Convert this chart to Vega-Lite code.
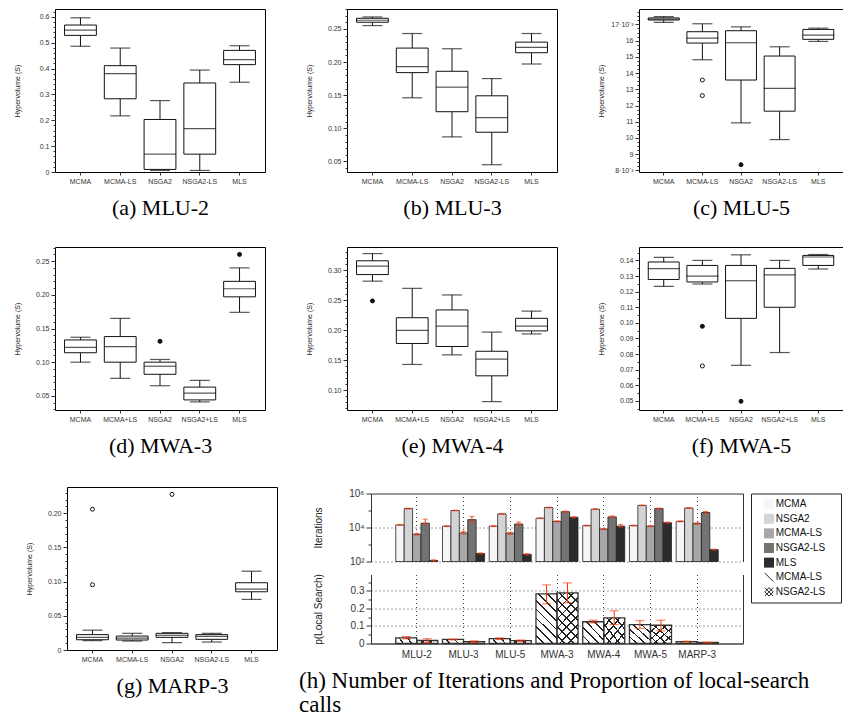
{
"$schema": "https://vega.github.io/schema/vega-lite/v6.json",
"padding": {"left": 12, "top": 8, "right": 0, "bottom": 0},
"autosize": {"type": "pad"},
"config": {
  "view": {"stroke": "#000", "strokeWidth": 1},
  "font": "Liberation Sans",
  "axis": {"labelFont": "Liberation Sans", "titleFont": "Liberation Sans", "labelColor": "#333", "titleColor": "#222", "tickColor": "#333", "domainColor": "#333", "titleFontWeight": "normal", "labelFontSize": 7, "titleFontSize": 7, "grid": false}
},
"datasets": {
  "boxes": [
    {"panel":"a","alg":"MCMA","lo":0.486,"q1":0.528,"med":0.548,"q3":0.568,"hi":0.596},
    {"panel":"a","alg":"MCMA-LS","lo":0.217,"q1":0.283,"med":0.380,"q3":0.411,"hi":0.479},
    {"panel":"a","alg":"NSGA2","lo":0.006,"q1":0.010,"med":0.069,"q3":0.203,"hi":0.276},
    {"panel":"a","alg":"NSGA2-LS","lo":0.006,"q1":0.069,"med":0.168,"q3":0.344,"hi":0.394},
    {"panel":"a","alg":"MLS","lo":0.347,"q1":0.415,"med":0.434,"q3":0.470,"hi":0.488},
    {"panel":"b","alg":"MCMA","lo":0.255,"q1":0.260,"med":0.263,"q3":0.266,"hi":0.268},
    {"panel":"b","alg":"MCMA-LS","lo":0.146,"q1":0.184,"med":0.193,"q3":0.221,"hi":0.243},
    {"panel":"b","alg":"NSGA2","lo":0.087,"q1":0.125,"med":0.162,"q3":0.186,"hi":0.220},
    {"panel":"b","alg":"NSGA2-LS","lo":0.045,"q1":0.094,"med":0.116,"q3":0.149,"hi":0.175},
    {"panel":"b","alg":"MLS","lo":0.197,"q1":0.214,"med":0.222,"q3":0.230,"hi":0.243},
    {"panel":"c","alg":"MCMA","lo":0.01712,"q1":0.01727,"med":0.01733,"q3":0.01740,"hi":0.01748},
    {"panel":"c","alg":"MCMA-LS","lo":0.01482,"q1":0.01585,"med":0.01616,"q3":0.01655,"hi":0.01704},
    {"panel":"c","alg":"NSGA2","lo":0.01093,"q1":0.01357,"med":0.01587,"q3":0.01661,"hi":0.01685},
    {"panel":"c","alg":"NSGA2-LS","lo":0.00990,"q1":0.01165,"med":0.01306,"q3":0.01505,"hi":0.01562},
    {"panel":"c","alg":"MLS","lo":0.01595,"q1":0.01608,"med":0.01634,"q3":0.01669,"hi":0.01677},
    {"panel":"d","alg":"MCMA","lo":0.100,"q1":0.114,"med":0.122,"q3":0.133,"hi":0.137},
    {"panel":"d","alg":"MCMA+LS","lo":0.076,"q1":0.100,"med":0.123,"q3":0.138,"hi":0.165},
    {"panel":"d","alg":"NSGA2","lo":0.065,"q1":0.082,"med":0.094,"q3":0.100,"hi":0.104},
    {"panel":"d","alg":"NSGA2+LS","lo":0.041,"q1":0.044,"med":0.054,"q3":0.063,"hi":0.073},
    {"panel":"d","alg":"MLS","lo":0.174,"q1":0.197,"med":0.209,"q3":0.220,"hi":0.240},
    {"panel":"e","alg":"MCMA","lo":0.282,"q1":0.293,"med":0.307,"q3":0.316,"hi":0.328},
    {"panel":"e","alg":"MCMA+LS","lo":0.143,"q1":0.178,"med":0.200,"q3":0.221,"hi":0.270},
    {"panel":"e","alg":"NSGA2","lo":0.159,"q1":0.173,"med":0.207,"q3":0.234,"hi":0.259},
    {"panel":"e","alg":"NSGA2+LS","lo":0.081,"q1":0.124,"med":0.152,"q3":0.165,"hi":0.197},
    {"panel":"e","alg":"MLS","lo":0.194,"q1":0.199,"med":0.207,"q3":0.220,"hi":0.232},
    {"panel":"f","alg":"MCMA","lo":0.1234,"q1":0.1278,"med":0.1347,"q3":0.1390,"hi":0.1420},
    {"panel":"f","alg":"MCMA+LS","lo":0.1249,"q1":0.1262,"med":0.1300,"q3":0.1368,"hi":0.1400},
    {"panel":"f","alg":"NSGA2","lo":0.0728,"q1":0.1029,"med":0.1270,"q3":0.1368,"hi":0.1436},
    {"panel":"f","alg":"NSGA2+LS","lo":0.0810,"q1":0.1100,"med":0.1307,"q3":0.1349,"hi":0.1400},
    {"panel":"f","alg":"MLS","lo":0.1345,"q1":0.1368,"med":0.1422,"q3":0.1432,"hi":0.1438},
    {"panel":"g","alg":"MCMA","lo":0.0137,"q1":0.0150,"med":0.0185,"q3":0.0225,"hi":0.0290},
    {"panel":"g","alg":"MCMA-LS","lo":0.0131,"q1":0.0146,"med":0.0175,"q3":0.0204,"hi":0.0244},
    {"panel":"g","alg":"NSGA2","lo":0.0108,"q1":0.0185,"med":0.0215,"q3":0.0244,"hi":0.0254},
    {"panel":"g","alg":"NSGA2-LS","lo":0.0117,"q1":0.0156,"med":0.0200,"q3":0.0225,"hi":0.0244},
    {"panel":"g","alg":"MLS","lo":0.0740,"q1":0.0852,"med":0.0890,"q3":0.0984,"hi":0.1153}
  ],
  "outliers": [
    {"panel":"c","alg":"MCMA-LS","v":0.01357,"kind":"near"},
    {"panel":"c","alg":"MCMA-LS","v":0.01261,"kind":"near"},
    {"panel":"c","alg":"NSGA2","v":0.00835,"kind":"far"},
    {"panel":"d","alg":"NSGA2","v":0.131,"kind":"far"},
    {"panel":"d","alg":"MLS","v":0.260,"kind":"far"},
    {"panel":"e","alg":"MCMA","v":0.249,"kind":"far"},
    {"panel":"f","alg":"MCMA+LS","v":0.0978,"kind":"far"},
    {"panel":"f","alg":"MCMA+LS","v":0.0724,"kind":"near"},
    {"panel":"f","alg":"NSGA2","v":0.0498,"kind":"far"},
    {"panel":"g","alg":"MCMA","v":0.206,"kind":"near"},
    {"panel":"g","alg":"MCMA","v":0.0955,"kind":"near"},
    {"panel":"g","alg":"NSGA2","v":0.2277,"kind":"near"}
  ],
  "iters": [
    {"problem":"MLU-2","alg":"MCMA","v":14200,"lo":13300,"hi":15100},
    {"problem":"MLU-2","alg":"NSGA2","v":130000,"lo":122000,"hi":138000},
    {"problem":"MLU-2","alg":"MCMA-LS","v":4000,"lo":3600,"hi":4500},
    {"problem":"MLU-2","alg":"NSGA2-LS","v":18000,"lo":15000,"hi":31000},
    {"problem":"MLU-2","alg":"MLS","v":115,"lo":105,"hi":125},
    {"problem":"MLU-3","alg":"MCMA","v":12000,"lo":11200,"hi":12800},
    {"problem":"MLU-3","alg":"NSGA2","v":100000,"lo":95000,"hi":105000},
    {"problem":"MLU-3","alg":"MCMA-LS","v":4800,"lo":4200,"hi":6000},
    {"problem":"MLU-3","alg":"NSGA2-LS","v":29000,"lo":20000,"hi":45000},
    {"problem":"MLU-3","alg":"MLS","v":295,"lo":270,"hi":320},
    {"problem":"MLU-5","alg":"MCMA","v":12000,"lo":11200,"hi":12800},
    {"problem":"MLU-5","alg":"NSGA2","v":63000,"lo":59000,"hi":67000},
    {"problem":"MLU-5","alg":"MCMA-LS","v":4600,"lo":4000,"hi":5300},
    {"problem":"MLU-5","alg":"NSGA2-LS","v":16000,"lo":13500,"hi":21000},
    {"problem":"MLU-5","alg":"MLS","v":260,"lo":240,"hi":290},
    {"problem":"MWA-3","alg":"MCMA","v":35000,"lo":33000,"hi":37000},
    {"problem":"MWA-3","alg":"NSGA2","v":150000,"lo":142000,"hi":158000},
    {"problem":"MWA-3","alg":"MCMA-LS","v":23000,"lo":21500,"hi":24500},
    {"problem":"MWA-3","alg":"NSGA2-LS","v":85000,"lo":78000,"hi":92000},
    {"problem":"MWA-3","alg":"MLS","v":40000,"lo":37000,"hi":43000},
    {"problem":"MWA-4","alg":"MCMA","v":13000,"lo":12200,"hi":13800},
    {"problem":"MWA-4","alg":"NSGA2","v":120000,"lo":113000,"hi":127000},
    {"problem":"MWA-4","alg":"MCMA-LS","v":8100,"lo":7500,"hi":8800},
    {"problem":"MWA-4","alg":"NSGA2-LS","v":42000,"lo":38000,"hi":48000},
    {"problem":"MWA-4","alg":"MLS","v":12000,"lo":10500,"hi":15000},
    {"problem":"MWA-5","alg":"MCMA","v":13000,"lo":12200,"hi":13800},
    {"problem":"MWA-5","alg":"NSGA2","v":200000,"lo":190000,"hi":210000},
    {"problem":"MWA-5","alg":"MCMA-LS","v":12000,"lo":11200,"hi":12800},
    {"problem":"MWA-5","alg":"NSGA2-LS","v":130000,"lo":122000,"hi":138000},
    {"problem":"MWA-5","alg":"MLS","v":19000,"lo":18000,"hi":21000},
    {"problem":"MARP-3","alg":"MCMA","v":23000,"lo":21500,"hi":24500},
    {"problem":"MARP-3","alg":"NSGA2","v":140000,"lo":132000,"hi":148000},
    {"problem":"MARP-3","alg":"MCMA-LS","v":17000,"lo":15500,"hi":19000},
    {"problem":"MARP-3","alg":"NSGA2-LS","v":76000,"lo":65000,"hi":88000},
    {"problem":"MARP-3","alg":"MLS","v":500,"lo":470,"hi":530}
  ],
  "plocal": [
    {"problem":"MLU-2","alg":"MCMA-LS","p":0.032,"lo":0.026,"hi":0.040},
    {"problem":"MLU-2","alg":"NSGA2-LS","p":0.017,"lo":0.005,"hi":0.027},
    {"problem":"MLU-3","alg":"MCMA-LS","p":0.024,"lo":0.020,"hi":0.025},
    {"problem":"MLU-3","alg":"NSGA2-LS","p":0.011,"lo":0.005,"hi":0.015},
    {"problem":"MLU-5","alg":"MCMA-LS","p":0.028,"lo":0.022,"hi":0.032},
    {"problem":"MLU-5","alg":"NSGA2-LS","p":0.016,"lo":0.012,"hi":0.020},
    {"problem":"MWA-3","alg":"MCMA-LS","p":0.283,"lo":0.226,"hi":0.334},
    {"problem":"MWA-3","alg":"NSGA2-LS","p":0.288,"lo":0.232,"hi":0.345},
    {"problem":"MWA-4","alg":"MCMA-LS","p":0.124,"lo":0.117,"hi":0.133},
    {"problem":"MWA-4","alg":"NSGA2-LS","p":0.146,"lo":0.108,"hi":0.186},
    {"problem":"MWA-5","alg":"MCMA-LS","p":0.108,"lo":0.086,"hi":0.130},
    {"problem":"MWA-5","alg":"NSGA2-LS","p":0.104,"lo":0.072,"hi":0.133},
    {"problem":"MARP-3","alg":"MCMA-LS","p":0.011,"lo":0.009,"hi":0.013},
    {"problem":"MARP-3","alg":"NSGA2-LS","p":0.006,"lo":0.004,"hi":0.008}
  ],
  "legend": [
    {"item":"MCMA","label":"MCMA","kind":"fill"},
    {"item":"NSGA2","label":"NSGA2","kind":"fill"},
    {"item":"MCMA-LS","label":"MCMA-LS","kind":"fill"},
    {"item":"NSGA2-LS","label":"NSGA2-LS","kind":"fill"},
    {"item":"MLS","label":"MLS","kind":"fill"},
    {"item":"MCMA-LS hatch","label":"MCMA-LS","kind":"diag"},
    {"item":"NSGA2-LS hatch","label":"NSGA2-LS","kind":"cross"}
  ]
},
"vconcat": [
  {"hconcat": [
    {"width": 210, "height": 163, "resolve": {"axis": {"y": "independent"}},
     "layer": [
      {"data": {"name": "boxes"}, "transform": [{"filter": "datum.panel == 'a'"}],
       "mark": {"type": "rule", "color": "#111", "strokeWidth": 1},
       "encoding": {
        "x": {"field": "alg", "type": "nominal", "scale": {"type": "band", "domain": ["MCMA","MCMA-LS","NSGA2","NSGA2-LS","MLS"], "paddingInner": 0, "paddingOuter": 0.14},
              "axis": {"title": "(a) MLU-2", "titleFont": "Liberation Serif", "titleFontSize": 22, "titleColor": "#000", "titlePadding": 12, "labelPadding": 2, "labelAngle": 0, "tickSize": 3, "domain": false, "bandPosition": 0.5, "minExtent": 13, "maxExtent": 13}},
        "y": {"field": "lo", "type": "quantitative", "scale": {"domain": [0, 0.63], "nice": false, "zero": false},
              "axis": {"title": "Hypervolume (S)", "titlePadding": 5, "labelPadding": 2, "tickSize": 4, "domain": false, "minExtent": 30, "maxExtent": 30,
                       "values": [0,0.1,0.2,0.3,0.4,0.5,0.6],
                       "labelExpr": "datum.value < 0.001 ? '0' : format(datum.value, '.1f')"}},
        "y2": {"field": "q1"}}},
      {"data": {"name": "boxes"}, "transform": [{"filter": "datum.panel == 'a'"}], "mark": {"type": "rule", "color": "#111", "strokeWidth": 1},
       "encoding": {"x": {"field": "alg", "type": "nominal"}, "y": {"field": "q3", "type": "quantitative",
         "axis": {"orient": "left", "title": null, "labels": false, "tickSize": 2, "domain": false, "grid": false,
                  "values": [0,0.02,0.04,0.06,0.08,0.1,0.12,0.14,0.16,0.18,0.2,0.22,0.24,0.26,0.28,0.3,0.32,0.34,0.36,0.38,0.4,0.42,0.44,0.46,0.48,0.5,0.52,0.54,0.56,0.58,0.6,0.62]}}, "y2": {"field": "hi"}}},
      {"data": {"name": "boxes"}, "transform": [{"filter": "datum.panel == 'a'"}], "mark": {"type": "bar", "fill": "white", "stroke": "#111", "strokeWidth": 1, "width": {"band": 0.8}},
       "encoding": {"x": {"field": "alg", "type": "nominal"}, "y": {"field": "q1", "type": "quantitative", "axis": null}, "y2": {"field": "q3"}}},
      {"data": {"name": "boxes"}, "transform": [{"filter": "datum.panel == 'a'"}], "mark": {"type": "tick", "color": "#111", "size": 32, "thickness": 1.2},
       "encoding": {"x": {"field": "alg", "type": "nominal"}, "y": {"field": "med", "type": "quantitative", "axis": null}}},
      {"data": {"name": "boxes"}, "transform": [{"filter": "datum.panel == 'a'"}], "mark": {"type": "tick", "color": "#111", "size": 20, "thickness": 1.2},
       "encoding": {"x": {"field": "alg", "type": "nominal"}, "y": {"field": "lo", "type": "quantitative", "axis": null}}},
      {"data": {"name": "boxes"}, "transform": [{"filter": "datum.panel == 'a'"}], "mark": {"type": "tick", "color": "#111", "size": 20, "thickness": 1.2},
       "encoding": {"x": {"field": "alg", "type": "nominal"}, "y": {"field": "hi", "type": "quantitative", "axis": null}}}
     ]},
    {"width": 210, "height": 163, "resolve": {"axis": {"y": "independent"}},
     "layer": [
      {"data": {"name": "boxes"}, "transform": [{"filter": "datum.panel == 'b'"}],
       "mark": {"type": "rule", "color": "#111", "strokeWidth": 1},
       "encoding": {
        "x": {"field": "alg", "type": "nominal", "scale": {"type": "band", "domain": ["MCMA","MCMA-LS","NSGA2","NSGA2-LS","MLS"], "paddingInner": 0, "paddingOuter": 0.14},
              "axis": {"title": "(b) MLU-3", "titleFont": "Liberation Serif", "titleFontSize": 22, "titleColor": "#000", "titlePadding": 12, "labelPadding": 2, "labelAngle": 0, "tickSize": 3, "domain": false, "bandPosition": 0.5, "minExtent": 13, "maxExtent": 13}},
        "y": {"field": "lo", "type": "quantitative", "scale": {"domain": [0.034, 0.28], "nice": false, "zero": false},
              "axis": {"title": "Hypervolume (S)", "titlePadding": 5, "labelPadding": 2, "tickSize": 4, "domain": false, "minExtent": 30, "maxExtent": 30,
                       "values": [0.05,0.1,0.15,0.2,0.25], "format": ".2f"}},
        "y2": {"field": "q1"}}},
      {"data": {"name": "boxes"}, "transform": [{"filter": "datum.panel == 'b'"}], "mark": {"type": "rule", "color": "#111", "strokeWidth": 1},
       "encoding": {"x": {"field": "alg", "type": "nominal"}, "y": {"field": "q3", "type": "quantitative",
         "axis": {"orient": "left", "title": null, "labels": false, "tickSize": 2, "domain": false, "grid": false,
                  "values": [0.04,0.05,0.06,0.07,0.08,0.09,0.1,0.11,0.12,0.13,0.14,0.15,0.16,0.17,0.18,0.19,0.2,0.21,0.22,0.23,0.24,0.25,0.26,0.27,0.28]}}, "y2": {"field": "hi"}}},
      {"data": {"name": "boxes"}, "transform": [{"filter": "datum.panel == 'b'"}], "mark": {"type": "bar", "fill": "white", "stroke": "#111", "strokeWidth": 1, "width": {"band": 0.8}},
       "encoding": {"x": {"field": "alg", "type": "nominal"}, "y": {"field": "q1", "type": "quantitative", "axis": null}, "y2": {"field": "q3"}}},
      {"data": {"name": "boxes"}, "transform": [{"filter": "datum.panel == 'b'"}], "mark": {"type": "tick", "color": "#111", "size": 32, "thickness": 1.2},
       "encoding": {"x": {"field": "alg", "type": "nominal"}, "y": {"field": "med", "type": "quantitative", "axis": null}}},
      {"data": {"name": "boxes"}, "transform": [{"filter": "datum.panel == 'b'"}], "mark": {"type": "tick", "color": "#111", "size": 20, "thickness": 1.2},
       "encoding": {"x": {"field": "alg", "type": "nominal"}, "y": {"field": "lo", "type": "quantitative", "axis": null}}},
      {"data": {"name": "boxes"}, "transform": [{"filter": "datum.panel == 'b'"}], "mark": {"type": "tick", "color": "#111", "size": 20, "thickness": 1.2},
       "encoding": {"x": {"field": "alg", "type": "nominal"}, "y": {"field": "hi", "type": "quantitative", "axis": null}}}
     ]},
    {"width": 204, "height": 163, "resolve": {"axis": {"y": "independent"}},
     "layer": [
      {"data": {"name": "boxes"}, "transform": [{"filter": "datum.panel == 'c'"}],
       "mark": {"type": "rule", "color": "#111", "strokeWidth": 1},
       "encoding": {
        "x": {"field": "alg", "type": "nominal", "scale": {"type": "band", "domain": ["MCMA","MCMA-LS","NSGA2","NSGA2-LS","MLS"], "paddingInner": 0, "paddingOuter": 0.14},
              "axis": {"title": "(c) MLU-5", "titleFont": "Liberation Serif", "titleFontSize": 22, "titleColor": "#000", "titlePadding": 12, "labelPadding": 2, "labelAngle": 0, "tickSize": 3, "domain": false, "bandPosition": 0.5, "minExtent": 13, "maxExtent": 13}},
        "y": {"field": "lo", "type": "quantitative", "scale": {"domain": [0.0079, 0.01795], "nice": false, "zero": false},
              "axis": {"title": "Hypervolume (S)", "titlePadding": 5, "labelPadding": 2, "tickSize": 4, "domain": false, "minExtent": 30, "maxExtent": 30,
                       "values": [0.008,0.009,0.01,0.011,0.012,0.013,0.014,0.015,0.016,0.017],
                       "labelExpr": "(round(datum.value*1000) == 17 || round(datum.value*1000) == 8) ? round(datum.value*1000) + '·10⁻³' : '' + round(datum.value*1000)"}},
        "y2": {"field": "q1"}}},
      {"data": {"name": "boxes"}, "transform": [{"filter": "datum.panel == 'c'"}], "mark": {"type": "rule", "color": "#111", "strokeWidth": 1},
       "encoding": {"x": {"field": "alg", "type": "nominal"}, "y": {"field": "q3", "type": "quantitative",
         "axis": {"orient": "left", "title": null, "labels": false, "tickSize": 2, "domain": false, "grid": false,
                  "values": [0.008,0.00825,0.0085,0.00875,0.009,0.00925,0.0095,0.00975,0.01,0.01025,0.0105,0.01075,0.011,0.01125,0.0115,0.01175,0.012,0.01225,0.0125,0.01275,0.013,0.01325,0.0135,0.01375,0.014,0.01425,0.0145,0.01475,0.015,0.01525,0.0155,0.01575,0.016,0.01625,0.0165,0.01675,0.017,0.01725,0.0175,0.01775]}}, "y2": {"field": "hi"}}},
      {"data": {"name": "boxes"}, "transform": [{"filter": "datum.panel == 'c'"}], "mark": {"type": "bar", "fill": "white", "stroke": "#111", "strokeWidth": 1, "width": {"band": 0.8}},
       "encoding": {"x": {"field": "alg", "type": "nominal"}, "y": {"field": "q1", "type": "quantitative", "axis": null}, "y2": {"field": "q3"}}},
      {"data": {"name": "boxes"}, "transform": [{"filter": "datum.panel == 'c'"}], "mark": {"type": "tick", "color": "#111", "size": 32, "thickness": 1.2},
       "encoding": {"x": {"field": "alg", "type": "nominal"}, "y": {"field": "med", "type": "quantitative", "axis": null}}},
      {"data": {"name": "boxes"}, "transform": [{"filter": "datum.panel == 'c'"}], "mark": {"type": "tick", "color": "#111", "size": 20, "thickness": 1.2},
       "encoding": {"x": {"field": "alg", "type": "nominal"}, "y": {"field": "lo", "type": "quantitative", "axis": null}}},
      {"data": {"name": "boxes"}, "transform": [{"filter": "datum.panel == 'c'"}], "mark": {"type": "tick", "color": "#111", "size": 20, "thickness": 1.2},
       "encoding": {"x": {"field": "alg", "type": "nominal"}, "y": {"field": "hi", "type": "quantitative", "axis": null}}},
      {"data": {"name": "outliers"}, "transform": [{"filter": "datum.panel == 'c'"}], "mark": {"type": "point", "shape": "circle", "size": 16, "stroke": "#111", "strokeWidth": 1, "opacity": 1, "filled": true},
       "encoding": {"x": {"field": "alg", "type": "nominal"}, "y": {"field": "v", "type": "quantitative", "axis": null}, "fill": {"condition": {"test": "datum.kind == 'far'", "value": "#111"}, "value": "white"}}}
     ]}
  ], "spacing": 82, "bounds": "flush"},
  {"hconcat": [
    {"width": 210, "height": 163, "resolve": {"axis": {"y": "independent"}},
     "layer": [
      {"data": {"name": "boxes"}, "transform": [{"filter": "datum.panel == 'd'"}],
       "mark": {"type": "rule", "color": "#111", "strokeWidth": 1},
       "encoding": {
        "x": {"field": "alg", "type": "nominal", "scale": {"type": "band", "domain": ["MCMA","MCMA+LS","NSGA2","NSGA2+LS","MLS"], "paddingInner": 0, "paddingOuter": 0.14},
              "axis": {"title": "(d) MWA-3", "titleFont": "Liberation Serif", "titleFontSize": 22, "titleColor": "#000", "titlePadding": 12, "labelPadding": 2, "labelAngle": 0, "tickSize": 3, "domain": false, "bandPosition": 0.5, "minExtent": 13, "maxExtent": 13}},
        "y": {"field": "lo", "type": "quantitative", "scale": {"domain": [0.029, 0.271], "nice": false, "zero": false},
              "axis": {"title": "Hypervolume (S)", "titlePadding": 5, "labelPadding": 2, "tickSize": 4, "domain": false, "minExtent": 30, "maxExtent": 30,
                       "values": [0.05,0.1,0.15,0.2,0.25], "format": ".2f"}},
        "y2": {"field": "q1"}}},
      {"data": {"name": "boxes"}, "transform": [{"filter": "datum.panel == 'd'"}], "mark": {"type": "rule", "color": "#111", "strokeWidth": 1},
       "encoding": {"x": {"field": "alg", "type": "nominal"}, "y": {"field": "q3", "type": "quantitative",
         "axis": {"orient": "left", "title": null, "labels": false, "tickSize": 2, "domain": false, "grid": false,
                  "values": [0.03,0.04,0.05,0.06,0.07,0.08,0.09,0.1,0.11,0.12,0.13,0.14,0.15,0.16,0.17,0.18,0.19,0.2,0.21,0.22,0.23,0.24,0.25,0.26,0.27]}}, "y2": {"field": "hi"}}},
      {"data": {"name": "boxes"}, "transform": [{"filter": "datum.panel == 'd'"}], "mark": {"type": "bar", "fill": "white", "stroke": "#111", "strokeWidth": 1, "width": {"band": 0.8}},
       "encoding": {"x": {"field": "alg", "type": "nominal"}, "y": {"field": "q1", "type": "quantitative", "axis": null}, "y2": {"field": "q3"}}},
      {"data": {"name": "boxes"}, "transform": [{"filter": "datum.panel == 'd'"}], "mark": {"type": "tick", "color": "#111", "size": 32, "thickness": 1.2},
       "encoding": {"x": {"field": "alg", "type": "nominal"}, "y": {"field": "med", "type": "quantitative", "axis": null}}},
      {"data": {"name": "boxes"}, "transform": [{"filter": "datum.panel == 'd'"}], "mark": {"type": "tick", "color": "#111", "size": 20, "thickness": 1.2},
       "encoding": {"x": {"field": "alg", "type": "nominal"}, "y": {"field": "lo", "type": "quantitative", "axis": null}}},
      {"data": {"name": "boxes"}, "transform": [{"filter": "datum.panel == 'd'"}], "mark": {"type": "tick", "color": "#111", "size": 20, "thickness": 1.2},
       "encoding": {"x": {"field": "alg", "type": "nominal"}, "y": {"field": "hi", "type": "quantitative", "axis": null}}},
      {"data": {"name": "outliers"}, "transform": [{"filter": "datum.panel == 'd'"}], "mark": {"type": "point", "shape": "circle", "size": 16, "stroke": "#111", "strokeWidth": 1, "opacity": 1, "filled": true},
       "encoding": {"x": {"field": "alg", "type": "nominal"}, "y": {"field": "v", "type": "quantitative", "axis": null}, "fill": {"condition": {"test": "datum.kind == 'far'", "value": "#111"}, "value": "white"}}}
     ]},
    {"width": 210, "height": 163, "resolve": {"axis": {"y": "independent"}},
     "layer": [
      {"data": {"name": "boxes"}, "transform": [{"filter": "datum.panel == 'e'"}],
       "mark": {"type": "rule", "color": "#111", "strokeWidth": 1},
       "encoding": {
        "x": {"field": "alg", "type": "nominal", "scale": {"type": "band", "domain": ["MCMA","MCMA+LS","NSGA2","NSGA2+LS","MLS"], "paddingInner": 0, "paddingOuter": 0.14},
              "axis": {"title": "(e) MWA-4", "titleFont": "Liberation Serif", "titleFontSize": 22, "titleColor": "#000", "titlePadding": 12, "labelPadding": 2, "labelAngle": 0, "tickSize": 3, "domain": false, "bandPosition": 0.5, "minExtent": 13, "maxExtent": 13}},
        "y": {"field": "lo", "type": "quantitative", "scale": {"domain": [0.067, 0.339], "nice": false, "zero": false},
              "axis": {"title": "Hypervolume (S)", "titlePadding": 5, "labelPadding": 2, "tickSize": 4, "domain": false, "minExtent": 30, "maxExtent": 30,
                       "values": [0.1,0.15,0.2,0.25,0.3], "format": ".2f"}},
        "y2": {"field": "q1"}}},
      {"data": {"name": "boxes"}, "transform": [{"filter": "datum.panel == 'e'"}], "mark": {"type": "rule", "color": "#111", "strokeWidth": 1},
       "encoding": {"x": {"field": "alg", "type": "nominal"}, "y": {"field": "q3", "type": "quantitative",
         "axis": {"orient": "left", "title": null, "labels": false, "tickSize": 2, "domain": false, "grid": false,
                  "values": [0.07,0.08,0.09,0.1,0.11,0.12,0.13,0.14,0.15,0.16,0.17,0.18,0.19,0.2,0.21,0.22,0.23,0.24,0.25,0.26,0.27,0.28,0.29,0.3,0.31,0.32,0.33]}}, "y2": {"field": "hi"}}},
      {"data": {"name": "boxes"}, "transform": [{"filter": "datum.panel == 'e'"}], "mark": {"type": "bar", "fill": "white", "stroke": "#111", "strokeWidth": 1, "width": {"band": 0.8}},
       "encoding": {"x": {"field": "alg", "type": "nominal"}, "y": {"field": "q1", "type": "quantitative", "axis": null}, "y2": {"field": "q3"}}},
      {"data": {"name": "boxes"}, "transform": [{"filter": "datum.panel == 'e'"}], "mark": {"type": "tick", "color": "#111", "size": 32, "thickness": 1.2},
       "encoding": {"x": {"field": "alg", "type": "nominal"}, "y": {"field": "med", "type": "quantitative", "axis": null}}},
      {"data": {"name": "boxes"}, "transform": [{"filter": "datum.panel == 'e'"}], "mark": {"type": "tick", "color": "#111", "size": 20, "thickness": 1.2},
       "encoding": {"x": {"field": "alg", "type": "nominal"}, "y": {"field": "lo", "type": "quantitative", "axis": null}}},
      {"data": {"name": "boxes"}, "transform": [{"filter": "datum.panel == 'e'"}], "mark": {"type": "tick", "color": "#111", "size": 20, "thickness": 1.2},
       "encoding": {"x": {"field": "alg", "type": "nominal"}, "y": {"field": "hi", "type": "quantitative", "axis": null}}},
      {"data": {"name": "outliers"}, "transform": [{"filter": "datum.panel == 'e'"}], "mark": {"type": "point", "shape": "circle", "size": 16, "stroke": "#111", "strokeWidth": 1, "opacity": 1, "filled": true},
       "encoding": {"x": {"field": "alg", "type": "nominal"}, "y": {"field": "v", "type": "quantitative", "axis": null}, "fill": {"condition": {"test": "datum.kind == 'far'", "value": "#111"}, "value": "white"}}}
     ]},
    {"width": 204, "height": 163, "resolve": {"axis": {"y": "independent"}},
     "layer": [
      {"data": {"name": "boxes"}, "transform": [{"filter": "datum.panel == 'f'"}],
       "mark": {"type": "rule", "color": "#111", "strokeWidth": 1},
       "encoding": {
        "x": {"field": "alg", "type": "nominal", "scale": {"type": "band", "domain": ["MCMA","MCMA+LS","NSGA2","NSGA2+LS","MLS"], "paddingInner": 0, "paddingOuter": 0.14},
              "axis": {"title": "(f) MWA-5", "titleFont": "Liberation Serif", "titleFontSize": 22, "titleColor": "#000", "titlePadding": 12, "labelPadding": 2, "labelAngle": 0, "tickSize": 3, "domain": false, "bandPosition": 0.5, "minExtent": 13, "maxExtent": 13}},
        "y": {"field": "lo", "type": "quantitative", "scale": {"domain": [0.0442, 0.1486], "nice": false, "zero": false},
              "axis": {"title": "Hypervolume (S)", "titlePadding": 5, "labelPadding": 2, "tickSize": 4, "domain": false, "minExtent": 30, "maxExtent": 30,
                       "values": [0.05,0.06,0.07,0.08,0.09,0.1,0.11,0.12,0.13,0.14], "format": ".2f"}},
        "y2": {"field": "q1"}}},
      {"data": {"name": "boxes"}, "transform": [{"filter": "datum.panel == 'f'"}], "mark": {"type": "rule", "color": "#111", "strokeWidth": 1},
       "encoding": {"x": {"field": "alg", "type": "nominal"}, "y": {"field": "q3", "type": "quantitative",
         "axis": {"orient": "left", "title": null, "labels": false, "tickSize": 2, "domain": false, "grid": false,
                  "values": [0.045,0.05,0.055,0.06,0.065,0.07,0.075,0.08,0.085,0.09,0.095,0.1,0.105,0.11,0.115,0.12,0.125,0.13,0.135,0.14,0.145]}}, "y2": {"field": "hi"}}},
      {"data": {"name": "boxes"}, "transform": [{"filter": "datum.panel == 'f'"}], "mark": {"type": "bar", "fill": "white", "stroke": "#111", "strokeWidth": 1, "width": {"band": 0.8}},
       "encoding": {"x": {"field": "alg", "type": "nominal"}, "y": {"field": "q1", "type": "quantitative", "axis": null}, "y2": {"field": "q3"}}},
      {"data": {"name": "boxes"}, "transform": [{"filter": "datum.panel == 'f'"}], "mark": {"type": "tick", "color": "#111", "size": 32, "thickness": 1.2},
       "encoding": {"x": {"field": "alg", "type": "nominal"}, "y": {"field": "med", "type": "quantitative", "axis": null}}},
      {"data": {"name": "boxes"}, "transform": [{"filter": "datum.panel == 'f'"}], "mark": {"type": "tick", "color": "#111", "size": 20, "thickness": 1.2},
       "encoding": {"x": {"field": "alg", "type": "nominal"}, "y": {"field": "lo", "type": "quantitative", "axis": null}}},
      {"data": {"name": "boxes"}, "transform": [{"filter": "datum.panel == 'f'"}], "mark": {"type": "tick", "color": "#111", "size": 20, "thickness": 1.2},
       "encoding": {"x": {"field": "alg", "type": "nominal"}, "y": {"field": "hi", "type": "quantitative", "axis": null}}},
      {"data": {"name": "outliers"}, "transform": [{"filter": "datum.panel == 'f'"}], "mark": {"type": "point", "shape": "circle", "size": 16, "stroke": "#111", "strokeWidth": 1, "opacity": 1, "filled": true},
       "encoding": {"x": {"field": "alg", "type": "nominal"}, "y": {"field": "v", "type": "quantitative", "axis": null}, "fill": {"condition": {"test": "datum.kind == 'far'", "value": "#111"}, "value": "white"}}}
     ]}
  ], "spacing": 82, "bounds": "flush"},
  {"hconcat": [
    {"width": 1, "height": 1, "view": {"stroke": null}, "data": {"values": [{"s": 1}]}, "mark": {"type": "point", "opacity": 0}},
    {"hconcat": [
      {"width": 210, "height": 163, "resolve": {"axis": {"y": "independent"}},
       "layer": [
        {"data": {"name": "boxes"}, "transform": [{"filter": "datum.panel == 'g'"}],
         "mark": {"type": "rule", "color": "#111", "strokeWidth": 1},
         "encoding": {
          "x": {"field": "alg", "type": "nominal", "scale": {"type": "band", "domain": ["MCMA","MCMA-LS","NSGA2","NSGA2-LS","MLS"], "paddingInner": 0, "paddingOuter": 0.14},
                "axis": {"title": "(g) MARP-3", "titleFont": "Liberation Serif", "titleFontSize": 22, "titleColor": "#000", "titlePadding": 12, "labelPadding": 2, "labelAngle": 0, "tickSize": 3, "domain": false, "bandPosition": 0.5, "minExtent": 13, "maxExtent": 13}},
          "y": {"field": "lo", "type": "quantitative", "scale": {"domain": [0, 0.2385], "nice": false, "zero": false},
                "axis": {"title": "Hypervolume (S)", "titlePadding": 5, "labelPadding": 2, "tickSize": 4, "domain": false, "minExtent": 30, "maxExtent": 30,
                         "values": [0,0.05,0.1,0.15,0.2],
                         "labelExpr": "datum.value < 0.001 ? '0' : format(datum.value, '.2f')"}},
          "y2": {"field": "q1"}}},
        {"data": {"name": "boxes"}, "transform": [{"filter": "datum.panel == 'g'"}], "mark": {"type": "rule", "color": "#111", "strokeWidth": 1},
         "encoding": {"x": {"field": "alg", "type": "nominal"}, "y": {"field": "q3", "type": "quantitative",
           "axis": {"orient": "left", "title": null, "labels": false, "tickSize": 2, "domain": false, "grid": false,
                    "values": [0,0.01,0.02,0.03,0.04,0.05,0.06,0.07,0.08,0.09,0.1,0.11,0.12,0.13,0.14,0.15,0.16,0.17,0.18,0.19,0.2,0.21,0.22,0.23]}}, "y2": {"field": "hi"}}},
        {"data": {"name": "boxes"}, "transform": [{"filter": "datum.panel == 'g'"}], "mark": {"type": "bar", "fill": "white", "stroke": "#111", "strokeWidth": 1, "width": {"band": 0.8}},
         "encoding": {"x": {"field": "alg", "type": "nominal"}, "y": {"field": "q1", "type": "quantitative", "axis": null}, "y2": {"field": "q3"}}},
        {"data": {"name": "boxes"}, "transform": [{"filter": "datum.panel == 'g'"}], "mark": {"type": "tick", "color": "#111", "size": 32, "thickness": 1.2},
         "encoding": {"x": {"field": "alg", "type": "nominal"}, "y": {"field": "med", "type": "quantitative", "axis": null}}},
        {"data": {"name": "boxes"}, "transform": [{"filter": "datum.panel == 'g'"}], "mark": {"type": "tick", "color": "#111", "size": 20, "thickness": 1.2},
         "encoding": {"x": {"field": "alg", "type": "nominal"}, "y": {"field": "lo", "type": "quantitative", "axis": null}}},
        {"data": {"name": "boxes"}, "transform": [{"filter": "datum.panel == 'g'"}], "mark": {"type": "tick", "color": "#111", "size": 20, "thickness": 1.2},
         "encoding": {"x": {"field": "alg", "type": "nominal"}, "y": {"field": "hi", "type": "quantitative", "axis": null}}},
        {"data": {"name": "outliers"}, "transform": [{"filter": "datum.panel == 'g'"}], "mark": {"type": "point", "shape": "circle", "size": 16, "stroke": "#111", "strokeWidth": 1, "opacity": 1, "filled": true},
         "encoding": {"x": {"field": "alg", "type": "nominal"}, "y": {"field": "v", "type": "quantitative", "axis": null}, "fill": {"condition": {"test": "datum.kind == 'far'", "value": "#111"}, "value": "white"}}}
       ]},
      {"vconcat": [
        {"width": 1, "height": 1, "view": {"stroke": null}, "data": {"values": [{"s": 1}]}, "mark": {"type": "point", "opacity": 0}},
        {"hconcat": [
          {"vconcat": [
            {"width": 372, "height": 68, "view": {"stroke": null},
             "data": {"name": "iters"},
             "resolve": {"axis": {"y": "independent"}},
             "layer": [
              {"mark": {"type": "bar", "stroke": "#222", "strokeWidth": 0.8},
               "encoding": {
                "x": {"field": "problem", "type": "nominal", "scale": {"domain": ["MLU-2","MLU-3","MLU-5","MWA-3","MWA-4","MWA-5","MARP-3"], "paddingInner": 0.1, "paddingOuter": 0.53},
                      "axis": {"orient": "top", "title": null, "labels": false, "ticks": false, "domain": true, "domainColor": "#333", "grid": true, "gridDash": [1, 3], "gridColor": "#444", "bandPosition": 0.5}},
                "xOffset": {"field": "alg", "type": "nominal", "scale": {"domain": ["MCMA","NSGA2","MCMA-LS","NSGA2-LS","MLS"], "paddingInner": 0, "paddingOuter": 0}},
                "y": {"field": "v", "type": "quantitative", "scale": {"type": "log", "domain": [100, 1000000], "nice": false},
                      "axis": {"title": "Iterations", "titleFontSize": 10, "labelFontSize": 10, "titleX": -48, "domain": true,
                               "values": [100, 1000, 10000, 100000, 1000000],
                               "labelExpr": "datum.value == 100 ? '10²' : datum.value == 10000 ? '10⁴' : datum.value == 1000000 ? '10⁶' : ''",
                               "tickSize": {"condition": {"test": "datum.value == 1000 || datum.value == 100000", "value": 3}, "value": 5},
                               "grid": true, "gridDash": [1, 3], "gridColor": "#444",
                               "gridOpacity": {"condition": {"test": "datum.value == 100 || datum.value == 10000", "value": 1}, "value": 0}}},
                "y2": {"datum": 100},
                "fill": {"field": "alg", "type": "nominal", "scale": {"domain": ["MCMA","NSGA2","MCMA-LS","NSGA2-LS","MLS"], "range": ["#f6f6f6","#d4d4d4","#a7a7a7","#737373","#2c2c2c"]}, "legend": null}
               }},
              {"mark": {"type": "rule", "color": "#ff3300", "strokeWidth": 1},
               "encoding": {
                "x": {"field": "problem", "type": "nominal"},
                "xOffset": {"field": "alg", "type": "nominal"},
                "y": {"field": "lo", "type": "quantitative", "axis": {"orient": "right", "title": null, "labels": false, "ticks": false, "grid": false, "domain": true, "domainColor": "#333"}},
                "y2": {"field": "hi"}}},
              {"mark": {"type": "tick", "color": "#ff3300", "size": 5, "thickness": 1},
               "encoding": {
                "x": {"field": "problem", "type": "nominal"},
                "xOffset": {"field": "alg", "type": "nominal"},
                "y": {"field": "hi", "type": "quantitative", "axis": null}}},
              {"mark": {"type": "tick", "color": "#ff3300", "size": 5, "thickness": 1},
               "encoding": {
                "x": {"field": "problem", "type": "nominal"},
                "xOffset": {"field": "alg", "type": "nominal"},
                "y": {"field": "lo", "type": "quantitative", "axis": null}}}
             ]},
            {"width": 372, "height": 69, "view": {"stroke": null},
             "data": {"name": "plocal"},
             "resolve": {"axis": {"y": "independent"}},
             "layer": [
              {"mark": {"type": "bar", "fill": "white"},
               "encoding": {
                "x": {"field": "problem", "type": "nominal", "scale": {"domain": ["MLU-2","MLU-3","MLU-5","MWA-3","MWA-4","MWA-5","MARP-3"], "paddingInner": 0.1, "paddingOuter": 0.53},
                      "axis": {"title": null, "labelFontSize": 10, "labelPadding": 6, "labelAngle": 0, "ticks": false, "domain": true, "domainColor": "#444", "domainWidth": 1.5, "grid": true, "gridDash": [1, 3], "gridColor": "#444", "bandPosition": 0.5}},
                "xOffset": {"field": "alg", "type": "nominal", "scale": {"domain": ["MCMA-LS","NSGA2-LS"], "paddingInner": 0, "paddingOuter": 0}},
                "y": {"field": "p", "type": "quantitative", "scale": {"domain": [0, 0.393], "nice": false},
                      "axis": {"title": "p(Local Search)", "titleFontSize": 10, "labelFontSize": 10, "titleX": -48, "domain": true,
                               "values": [0, 0.05, 0.1, 0.15, 0.2, 0.25, 0.3, 0.35],
                               "labelExpr": "abs(datum.value*10 - round(datum.value*10)) < 0.001 ? (datum.value < 0.001 ? '0' : format(datum.value, '.1f')) : ''",
                               "tickSize": {"condition": {"test": "abs(datum.value*10 - round(datum.value*10)) < 0.001", "value": 5}, "value": 3},
                               "grid": true, "gridDash": [1, 3], "gridColor": "#444",
                               "gridOpacity": {"condition": {"test": "abs(datum.value*10 - round(datum.value*10)) < 0.001 && datum.value > 0.001", "value": 1}, "value": 0}}}
               }},
              {"mark": {"type": "bar"},
               "encoding": {
                "x": {"field": "problem", "type": "nominal"},
                "xOffset": {"field": "alg", "type": "nominal"},
                "y": {"field": "p", "type": "quantitative", "axis": null},
                "fill": {"condition": [
                  {"test": "datum.p > 0.2", "value": {"gradient": "linear", "x1": 0, "y1": 1, "x2": 0.5075, "y2": -0.208, "stops": [
                    {"offset": 0, "color": "rgba(0,0,0,0)"}, {"offset": 0.1, "color": "rgba(0,0,0,0)"}, {"offset": 0.1, "color": "#222"}, {"offset": 0.125, "color": "#222"},
                    {"offset": 0.125, "color": "rgba(0,0,0,0)"}, {"offset": 0.225, "color": "rgba(0,0,0,0)"}, {"offset": 0.225, "color": "#222"}, {"offset": 0.25, "color": "#222"},
                    {"offset": 0.25, "color": "rgba(0,0,0,0)"}, {"offset": 0.35, "color": "rgba(0,0,0,0)"}, {"offset": 0.35, "color": "#222"}, {"offset": 0.375, "color": "#222"},
                    {"offset": 0.375, "color": "rgba(0,0,0,0)"}, {"offset": 0.475, "color": "rgba(0,0,0,0)"}, {"offset": 0.475, "color": "#222"}, {"offset": 0.5, "color": "#222"},
                    {"offset": 0.5, "color": "rgba(0,0,0,0)"}, {"offset": 0.6, "color": "rgba(0,0,0,0)"}, {"offset": 0.6, "color": "#222"}, {"offset": 0.625, "color": "#222"},
                    {"offset": 0.625, "color": "rgba(0,0,0,0)"}, {"offset": 0.725, "color": "rgba(0,0,0,0)"}, {"offset": 0.725, "color": "#222"}, {"offset": 0.75, "color": "#222"},
                    {"offset": 0.75, "color": "rgba(0,0,0,0)"}, {"offset": 0.85, "color": "rgba(0,0,0,0)"}, {"offset": 0.85, "color": "#222"}, {"offset": 0.875, "color": "#222"},
                    {"offset": 0.875, "color": "rgba(0,0,0,0)"}, {"offset": 0.975, "color": "rgba(0,0,0,0)"}, {"offset": 0.975, "color": "#222"}, {"offset": 1, "color": "#222"}]}},
                  {"test": "datum.p > 0.08", "value": {"gradient": "linear", "x1": 0, "y1": 1, "x2": 1, "y2": 0, "stops": [
                    {"offset": 0, "color": "rgba(0,0,0,0)"}, {"offset": 0.16, "color": "rgba(0,0,0,0)"}, {"offset": 0.16, "color": "#222"}, {"offset": 0.2, "color": "#222"},
                    {"offset": 0.2, "color": "rgba(0,0,0,0)"}, {"offset": 0.36, "color": "rgba(0,0,0,0)"}, {"offset": 0.36, "color": "#222"}, {"offset": 0.4, "color": "#222"},
                    {"offset": 0.4, "color": "rgba(0,0,0,0)"}, {"offset": 0.56, "color": "rgba(0,0,0,0)"}, {"offset": 0.56, "color": "#222"}, {"offset": 0.6, "color": "#222"},
                    {"offset": 0.6, "color": "rgba(0,0,0,0)"}, {"offset": 0.76, "color": "rgba(0,0,0,0)"}, {"offset": 0.76, "color": "#222"}, {"offset": 0.8, "color": "#222"},
                    {"offset": 0.8, "color": "rgba(0,0,0,0)"}, {"offset": 0.96, "color": "rgba(0,0,0,0)"}, {"offset": 0.96, "color": "#222"}, {"offset": 1, "color": "#222"}]}}],
                 "value": {"gradient": "linear", "x1": 0, "y1": 1, "x2": 1.154, "y2": 0.769, "stops": [
                    {"offset": 0, "color": "rgba(0,0,0,0)"}, {"offset": 0.267, "color": "rgba(0,0,0,0)"}, {"offset": 0.267, "color": "#222"}, {"offset": 0.333, "color": "#222"},
                    {"offset": 0.333, "color": "rgba(0,0,0,0)"}, {"offset": 0.6, "color": "rgba(0,0,0,0)"}, {"offset": 0.6, "color": "#222"}, {"offset": 0.667, "color": "#222"},
                    {"offset": 0.667, "color": "rgba(0,0,0,0)"}, {"offset": 0.933, "color": "rgba(0,0,0,0)"}, {"offset": 0.933, "color": "#222"}, {"offset": 1, "color": "#222"}]}}
               }},
              {"transform": [{"filter": "datum.alg == 'NSGA2-LS'"}],
               "mark": {"type": "bar"},
               "encoding": {
                "x": {"field": "problem", "type": "nominal"},
                "xOffset": {"field": "alg", "type": "nominal"},
                "y": {"field": "p", "type": "quantitative", "axis": null},
                "fill": {"condition": [
                  {"test": "datum.p > 0.2", "value": {"gradient": "linear", "x1": 0, "y1": 0, "x2": 0.5075, "y2": 1.208, "stops": [
                    {"offset": 0, "color": "rgba(0,0,0,0)"}, {"offset": 0.1, "color": "rgba(0,0,0,0)"}, {"offset": 0.1, "color": "#222"}, {"offset": 0.125, "color": "#222"},
                    {"offset": 0.125, "color": "rgba(0,0,0,0)"}, {"offset": 0.225, "color": "rgba(0,0,0,0)"}, {"offset": 0.225, "color": "#222"}, {"offset": 0.25, "color": "#222"},
                    {"offset": 0.25, "color": "rgba(0,0,0,0)"}, {"offset": 0.35, "color": "rgba(0,0,0,0)"}, {"offset": 0.35, "color": "#222"}, {"offset": 0.375, "color": "#222"},
                    {"offset": 0.375, "color": "rgba(0,0,0,0)"}, {"offset": 0.475, "color": "rgba(0,0,0,0)"}, {"offset": 0.475, "color": "#222"}, {"offset": 0.5, "color": "#222"},
                    {"offset": 0.5, "color": "rgba(0,0,0,0)"}, {"offset": 0.6, "color": "rgba(0,0,0,0)"}, {"offset": 0.6, "color": "#222"}, {"offset": 0.625, "color": "#222"},
                    {"offset": 0.625, "color": "rgba(0,0,0,0)"}, {"offset": 0.725, "color": "rgba(0,0,0,0)"}, {"offset": 0.725, "color": "#222"}, {"offset": 0.75, "color": "#222"},
                    {"offset": 0.75, "color": "rgba(0,0,0,0)"}, {"offset": 0.85, "color": "rgba(0,0,0,0)"}, {"offset": 0.85, "color": "#222"}, {"offset": 0.875, "color": "#222"},
                    {"offset": 0.875, "color": "rgba(0,0,0,0)"}, {"offset": 0.975, "color": "rgba(0,0,0,0)"}, {"offset": 0.975, "color": "#222"}, {"offset": 1, "color": "#222"}]}},
                  {"test": "datum.p > 0.08", "value": {"gradient": "linear", "x1": 0, "y1": 0, "x2": 1, "y2": 1, "stops": [
                    {"offset": 0, "color": "rgba(0,0,0,0)"}, {"offset": 0.16, "color": "rgba(0,0,0,0)"}, {"offset": 0.16, "color": "#222"}, {"offset": 0.2, "color": "#222"},
                    {"offset": 0.2, "color": "rgba(0,0,0,0)"}, {"offset": 0.36, "color": "rgba(0,0,0,0)"}, {"offset": 0.36, "color": "#222"}, {"offset": 0.4, "color": "#222"},
                    {"offset": 0.4, "color": "rgba(0,0,0,0)"}, {"offset": 0.56, "color": "rgba(0,0,0,0)"}, {"offset": 0.56, "color": "#222"}, {"offset": 0.6, "color": "#222"},
                    {"offset": 0.6, "color": "rgba(0,0,0,0)"}, {"offset": 0.76, "color": "rgba(0,0,0,0)"}, {"offset": 0.76, "color": "#222"}, {"offset": 0.8, "color": "#222"},
                    {"offset": 0.8, "color": "rgba(0,0,0,0)"}, {"offset": 0.96, "color": "rgba(0,0,0,0)"}, {"offset": 0.96, "color": "#222"}, {"offset": 1, "color": "#222"}]}}],
                 "value": {"gradient": "linear", "x1": 0, "y1": 0, "x2": 1.154, "y2": 0.2308, "stops": [
                    {"offset": 0, "color": "rgba(0,0,0,0)"}, {"offset": 0.267, "color": "rgba(0,0,0,0)"}, {"offset": 0.267, "color": "#222"}, {"offset": 0.333, "color": "#222"},
                    {"offset": 0.333, "color": "rgba(0,0,0,0)"}, {"offset": 0.6, "color": "rgba(0,0,0,0)"}, {"offset": 0.6, "color": "#222"}, {"offset": 0.667, "color": "#222"},
                    {"offset": 0.667, "color": "rgba(0,0,0,0)"}, {"offset": 0.933, "color": "rgba(0,0,0,0)"}, {"offset": 0.933, "color": "#222"}, {"offset": 1, "color": "#222"}]}}
               }},
              {"mark": {"type": "bar", "filled": false, "stroke": "#333", "strokeWidth": 1.3},
               "encoding": {
                "x": {"field": "problem", "type": "nominal"},
                "xOffset": {"field": "alg", "type": "nominal"},
                "y": {"field": "p", "type": "quantitative", "axis": null}}},
              {"mark": {"type": "rule", "color": "#ff3300", "strokeWidth": 1},
               "encoding": {
                "x": {"field": "problem", "type": "nominal"},
                "xOffset": {"field": "alg", "type": "nominal"},
                "y": {"field": "lo", "type": "quantitative", "axis": {"orient": "right", "title": null, "labels": false, "ticks": false, "grid": false, "domain": true, "domainColor": "#333"}},
                "y2": {"field": "hi"}}},
              {"mark": {"type": "tick", "color": "#ff3300", "size": 9, "thickness": 1},
               "encoding": {
                "x": {"field": "problem", "type": "nominal"},
                "xOffset": {"field": "alg", "type": "nominal"},
                "y": {"field": "hi", "type": "quantitative", "axis": null}}},
              {"mark": {"type": "tick", "color": "#ff3300", "size": 9, "thickness": 1},
               "encoding": {
                "x": {"field": "problem", "type": "nominal"},
                "xOffset": {"field": "alg", "type": "nominal"},
                "y": {"field": "lo", "type": "quantitative", "axis": null}}}
             ]}
          ], "spacing": 7, "resolve": {"scale": {"x": "independent", "y": "independent", "xOffset": "independent", "fill": "independent"}}},
          {"width": 90, "height": 109, "view": {"stroke": "#222", "strokeWidth": 1},
           "data": {"name": "legend"},
           "encoding": {"y": {"field": "item", "type": "nominal", "sort": null, "scale": {"type": "point", "padding": 0.73, "domain": ["MCMA","NSGA2","MCMA-LS","NSGA2-LS","MLS","MCMA-LS hatch","NSGA2-LS hatch"]}, "axis": null}},
           "layer": [
            {"transform": [{"filter": "datum.kind == 'fill'"}],
             "mark": {"type": "point", "shape": "square", "size": 100, "filled": true, "opacity": 1},
             "encoding": {"x": {"datum": 2, "type": "quantitative", "scale": {"domain": [0, 10]}, "axis": null},
                          "fill": {"field": "label", "type": "nominal", "scale": {"domain": ["MCMA","NSGA2","MCMA-LS","NSGA2-LS","MLS"], "range": ["#f6f6f6","#d4d4d4","#a7a7a7","#737373","#2c2c2c"]}, "legend": null}}},
            {"transform": [{"filter": "datum.kind == 'diag'"}],
             "mark": {"type": "point", "shape": "M-1,-1L1,1", "size": 70, "filled": false, "stroke": "#222", "strokeWidth": 1, "opacity": 1},
             "encoding": {"x": {"datum": 2, "type": "quantitative"}}},
            {"transform": [{"filter": "datum.kind == 'cross'"}],
             "mark": {"type": "point", "shape": "M-1,-1L1,1M-1,1L1,-1M0,-1L1,0L0,1L-1,0Z", "size": 70, "filled": false, "stroke": "#222", "strokeWidth": 1, "opacity": 1},
             "encoding": {"x": {"datum": 2, "type": "quantitative"}}},
            {"mark": {"type": "text", "align": "left", "baseline": "middle", "fontSize": 10, "font": "Liberation Sans", "color": "#111"},
             "encoding": {"x": {"datum": 2.75, "type": "quantitative"}, "text": {"field": "label"}}}
           ]}
        ], "spacing": 7}
      ], "spacing": -2.5,
       "title": {"text": ["(h) Number of Iterations and Proportion of local-search", "calls"], "orient": "bottom", "anchor": "start", "frame": "bounds", "font": "Liberation Serif", "fontSize": 23, "fontWeight": "normal", "color": "#000", "offset": 10, "lineHeight": 24, "dx": -14}}
    ], "spacing": 21}
  ], "spacing": -35}
],
"spacing": 27
}
